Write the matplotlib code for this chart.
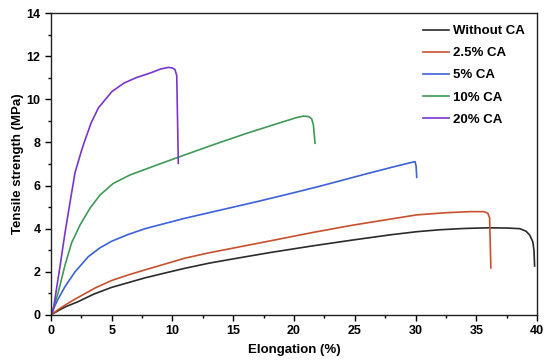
import matplotlib
matplotlib.use("Agg")
import matplotlib.pyplot as plt
from matplotlib.ticker import MultipleLocator

plt.rcParams['font.family'] = ['Liberation Sans', 'DejaVu Sans']

labels = ["Without CA", "2.5% CA", "5% CA", "10% CA", "20% CA"]
colors = ["#2b2b2b", "#c8502e", "#3b62d8", "#3f9a55", "#7a35d0"]

x_without = [0, 0.6, 1.2, 2.25, 3.5, 5.0, 6.5, 7.74, 9.5, 11.0, 13.0, 15.0, 18.0, 21.5, 24.9, 28.0, 30.1, 32.0, 34.0, 36.0, 37.5, 38.6, 39.1, 39.4, 39.65, 39.75, 39.8]
y_without = [0, 0.2, 0.38, 0.62, 0.96, 1.28, 1.52, 1.72, 1.96, 2.16, 2.4, 2.6, 2.89, 3.2, 3.48, 3.72, 3.86, 3.95, 4.01, 4.04, 4.03, 4.0, 3.88, 3.7, 3.4, 3.0, 2.27]

x_25 = [0, 0.6, 1.2, 2.0, 3.6, 5.0, 6.5, 7.74, 9.5, 11.0, 13.0, 15.0, 18.0, 21.5, 24.9, 28.0, 30.1, 32.5, 34.5, 35.6, 35.95, 36.1, 36.2]
y_25 = [0, 0.25, 0.47, 0.74, 1.24, 1.6, 1.88, 2.09, 2.38, 2.63, 2.88, 3.1, 3.43, 3.82, 4.17, 4.45, 4.64, 4.74, 4.79, 4.79, 4.72, 4.5, 2.18]

x_5 = [0, 0.3, 0.6, 1.15, 1.98, 3.07, 4.0, 5.0, 6.3, 7.74, 9.5, 11.0, 13.0, 15.0, 17.0, 19.5, 22.0, 24.0, 26.0, 28.0, 29.5, 29.96, 30.05, 30.1]
y_5 = [0, 0.4, 0.75, 1.31, 2.0, 2.7, 3.1, 3.42, 3.72, 4.0, 4.26, 4.48, 4.74, 5.0, 5.26, 5.6, 5.95, 6.25, 6.55, 6.84, 7.05, 7.11, 6.9, 6.38]

x_10 = [0, 0.3, 0.6, 1.15, 1.7, 2.39, 3.21, 4.03, 5.13, 6.5, 8.7, 11.0, 13.5, 16.1, 18.5, 20.2, 20.77, 21.2, 21.45, 21.6, 21.73]
y_10 = [0, 0.5, 1.05, 2.3, 3.35, 4.17, 4.95, 5.56, 6.1, 6.49, 6.95, 7.42, 7.92, 8.42, 8.85, 9.15, 9.22, 9.2, 9.1, 8.8, 7.96]

x_20 = [0, 0.19, 0.45, 0.74, 1.15, 1.56, 1.98, 2.5, 2.8, 3.3, 3.9, 5.0, 6.0, 7.0, 8.28, 9.0, 9.66, 10.0, 10.2, 10.35, 10.48]
y_20 = [0, 0.23, 1.2, 2.24, 3.79, 5.2, 6.6, 7.6, 8.11, 8.9, 9.6, 10.35, 10.75, 11.0, 11.24, 11.4, 11.48, 11.45, 11.38, 11.1, 7.03]

xs = [x_without, x_25, x_5, x_10, x_20]
ys = [y_without, y_25, y_5, y_10, y_20]

fig = plt.figure(figsize=(5.5, 3.62), dpi=100)
ax = fig.add_axes([0.0927, 0.130, 0.8837, 0.834])

for x, y, c, l in zip(xs, ys, colors, labels):
    ax.plot(x, y, color=c, lw=1.2, label=l)

ax.set_xlim(0, 40)
ax.set_ylim(0, 14)
ax.xaxis.set_major_locator(MultipleLocator(5))
ax.xaxis.set_minor_locator(MultipleLocator(2.5))
ax.yaxis.set_major_locator(MultipleLocator(2))
ax.yaxis.set_minor_locator(MultipleLocator(1))
ax.tick_params(which='both', direction='out', top=False, right=False, width=1)
ax.tick_params(which='major', length=4, labelsize=9)
ax.tick_params(which='minor', length=2)
for t in ax.get_xticklabels() + ax.get_yticklabels():
    t.set_fontweight('bold')
for s in ax.spines.values():
    s.set_linewidth(1.0)
    s.set_color('#222222')

ax.set_xlabel("Elongation (%)", fontsize=9.5, fontweight='bold', labelpad=5)
ax.set_ylabel("Tensile strength (MPa)", fontsize=9.5, fontweight='bold', labelpad=2)

leg = ax.legend(loc='upper right', frameon=False, handlelength=2.0, handletextpad=0.3,
                labelspacing=0.75, prop={'weight': 'bold', 'size': 9.5},
                bbox_to_anchor=(1.0, 1.0), borderaxespad=0.5)

fig.savefig("out.png", dpi=100)
